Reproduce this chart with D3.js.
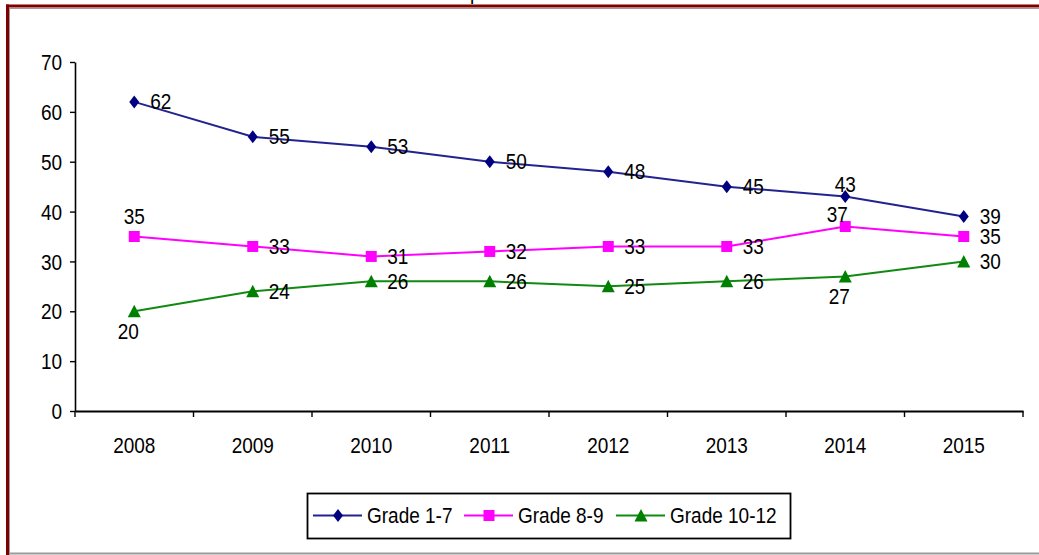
<!DOCTYPE html>
<html>
<head>
<meta charset="utf-8">
<script src="https://cdn.jsdelivr.net/npm/d3@7"></script>
<style>
  body { margin: 0; background: #fff; }
  svg { display: block; font-family: 'Liberation Sans', Arial, sans-serif; }
</style>
</head>
<body>
<svg width="1039" height="555"></svg>
<script>
/* global d3 */
var years = ['2008', '2009', '2010', '2011', '2012', '2013', '2014', '2015']
var grade17 = [62, 55, 53, 50, 48, 45, 43, 39]
var grade89 = [35, 33, 31, 32, 33, 33, 37, 35]
var grade1012 = [20, 24, 26, 26, 25, 26, 27, 30]
var seriesNames = ['Grade 1-7', 'Grade 8-9', 'Grade 10-12']
var yTicks = [0, 10, 20, 30, 40, 50, 60, 70]

var svg = d3.select('svg')
var width = +svg.attr('width')
var height = +svg.attr('height')

let fontSize = 19
let stretch = 1.18 // the source text is a bit taller than it is wide
let textC = '#000'

let series = [
  { name: seriesNames[0], values: grade17, line: '#232390', fill: '#000080', symbol: 'diamond' },
  { name: seriesNames[1], values: grade89, line: '#ff00ff', fill: '#ff00ff', symbol: 'square' },
  { name: seriesNames[2], values: grade1012, line: '#118a11', fill: '#008000', symbol: 'triangle' }
]

// where a data label goes, when not on the right of its marker
let labelSpots = {
  'Grade 8-9': { 0: 'above', 6: 'aboveLeft' },
  'Grade 10-12': { 0: 'below', 6: 'below' },
  'Grade 1-7': { 6: 'above' }
}

var x = d3.scaleBand().domain(years).range([75, 1023])
var y = d3.scaleLinear().domain([0, 70]).range([411, 62])
var cx = d => x(d) + x.bandwidth() / 2

// ---------- frame ----------
svg.append('rect').attr('x', 6).attr('y', 4.5).attr('width', width - 6).attr('height', 3)
  .attr('fill', '#800000')
svg.append('line').attr('x1', 9).attr('x2', width).attr('y1', 8.5).attr('y2', 8.5)
  .attr('stroke', '#9a9a9a')
svg.append('rect').attr('x', 6).attr('y', 4.5).attr('width', 3).attr('height', height - 4.5)
  .attr('fill', '#800000')
svg.append('line').attr('x1', 9.5).attr('x2', 9.5).attr('y1', 8).attr('y2', height)
  .attr('stroke', '#9a9a9a')
svg.append('line').attr('x1', 9).attr('x2', width).attr('y1', 553.5).attr('y2', 553.5)
  .attr('stroke', '#9a9a9a').attr('stroke-width', 2)

// the title sits above the picture, only a descender is left
svg.append('text').attr('x', 470).attr('y', 0)
  .style('font-size', fontSize + 'px').attr('fill', textC).text('p')

function stretched (sel, tx, ty) {
  sel.attr('x', 0).attr('y', 0)
    .attr('transform', 'translate(' + tx + ',' + ty + ') scale(1,' + stretch + ')')
}

// ---------- axes ----------
var yAxis = svg.append('g')
  .attr('transform', 'translate(75,0)')
  .call(d3.axisLeft(y).tickValues(yTicks).tickSize(5).tickSizeOuter(0).tickPadding(8))
yAxis.select('.domain').attr('stroke', '#000').attr('stroke-width', 1.6)
yAxis.selectAll('.tick line').attr('stroke', '#000').attr('stroke-width', 1.4)
yAxis.selectAll('.tick text')
  .style('font-size', fontSize + 'px').style('font-family', 'inherit').attr('fill', textC)
  .attr('dy', '0.34em')
  .attr('transform', 'scale(1,' + stretch + ')')

var xAxis = svg.append('g')
  .attr('transform', 'translate(0,411)')
  .call(d3.axisBottom(x).tickSize(0).tickSizeOuter(0))
xAxis.select('.domain').attr('stroke', '#000').attr('stroke-width', 1.8)
xAxis.selectAll('.tick text')
  .style('font-size', fontSize + 'px').style('font-family', 'inherit').attr('fill', textC)
  .attr('dy', null)
  .each(function () { stretched(d3.select(this), 0, 42) })

// category boundary ticks
xAxis.selectAll('line.bound')
  .data(years.map(d => x(d)).concat([x.range()[1]]))
  .enter().append('line')
    .attr('class', 'bound')
    .attr('x1', d => d).attr('x2', d => d)
    .attr('y1', 0).attr('y2', 6)
    .attr('stroke', '#000').attr('stroke-width', 1.4)

// ---------- series ----------
var symbols = {
  diamond: 'M0,-6.5L5,0L0,6.5L-5,0Z',
  square: 'M-5.5,-5.5H5.5V5.5H-5.5Z',
  triangle: 'M0,-6.5L6.5,6L-6.5,6Z'
}

var line = d3.line()
  .x((d, i) => cx(years[i]))
  .y(d => y(d))

series.forEach(s => {
  var g = svg.append('g').attr('class', 'series')
  g.append('path')
    .datum(s.values)
    .attr('fill', 'none')
    .attr('stroke', s.line)
    .attr('stroke-width', 2)
    .attr('d', line)

  g.selectAll('path.mark')
    .data(s.values)
    .enter().append('path')
      .attr('class', 'mark')
      .attr('d', symbols[s.symbol])
      .attr('fill', s.fill)
      .attr('transform', (d, i) => 'translate(' + cx(years[i]) + ',' + y(d) + ')')

  g.selectAll('text')
    .data(s.values)
    .enter().append('text')
      .style('font-size', fontSize + 'px')
      .attr('fill', textC)
      .text(d => d)
      .each(function (d, i) {
        var spot = (labelSpots[s.name] || {})[i] || 'right'
        var px = cx(years[i])
        var py = y(d)
        var t = d3.select(this)
        if (spot === 'right') {
          t.attr('text-anchor', 'start')
          stretched(t, px + 16, py + 7.5)
        } else if (spot === 'above') {
          t.attr('text-anchor', 'middle')
          stretched(t, px, py - (s.name === 'Grade 1-7' ? 5 : 13))
        } else if (spot === 'aboveLeft') {
          t.attr('text-anchor', 'middle')
          stretched(t, px - 8, py - 5)
        } else {
          t.attr('text-anchor', 'middle')
          stretched(t, px - 6, py + 28)
        }
      })
})

// ---------- legend ----------
var legend = svg.append('g').attr('class', 'legend')
legend.append('rect')
  .attr('x', 307.5).attr('y', 493.5).attr('width', 483).attr('height', 45)
  .attr('fill', '#fff').attr('stroke', '#000').attr('stroke-width', 1.8)

var legendX = [313, 464, 616]
var item = legend.selectAll('g.item')
  .data(series)
  .enter().append('g')
    .attr('class', 'item')
    .attr('transform', (d, i) => 'translate(' + legendX[i] + ',515.5)')

item.append('line')
  .attr('x1', 0).attr('x2', 49)
  .attr('stroke', d => d.line).attr('stroke-width', 2)
item.append('path')
  .attr('d', d => symbols[d.symbol])
  .attr('fill', d => d.fill)
  .attr('transform', 'translate(25,0)')
item.append('text')
  .style('font-size', fontSize + 'px')
  .attr('fill', textC)
  .text(d => d.name)
  .each(function () { stretched(d3.select(this), 54, 7.5) })
</script>
</body>
</html>
